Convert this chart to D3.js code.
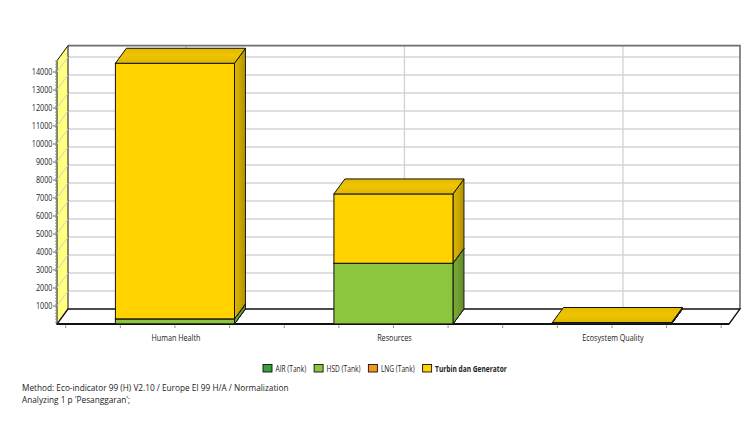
<!DOCTYPE html>
<html>
<head>
<meta charset="utf-8">
<script src="https://cdn.jsdelivr.net/npm/d3@7"></script>
<style>
  body { margin: 0; background: #fff; }
  text { font-family: "Open Sans", "Noto Sans", sans-serif; fill: #222; }
</style>
</head>
<body>
<svg id="chart" width="755" height="424"></svg>
<script>
// Normalized impact per damage category (Eco-indicator 99 H/A)
const categories = ["Human Health", "Resources", "Ecosystem Quality"];
const seriesNames = ["AIR (Tank)", "HSD (Tank)", "LNG (Tank)", "Turbin dan Generator"];
const seriesColors = ["#35a33a", "#8cc63e", "#f7941d", "#ffd200"];
const airValues = [8, 4, 0.5];
const hsdValues = [275, 3370, 20];
const lngValues = [2, 1, 0.5];
const turbinValues = [14200, 3850, 62];
const yTicks = [1000, 2000, 3000, 4000, 5000, 6000, 7000, 8000, 9000, 10000, 11000, 12000, 13000, 14000];
const yMax = 14630;
const footnotes = [
  "Method: Eco-indicator 99 (H) V2.10 / Europe EI 99 H/A / Normalization",
  "Analyzing 1 p 'Pesanggaran';"
];

const series = [airValues, hsdValues, lngValues, turbinValues];

const svg = d3.select("#chart");
const DX = 11, DY = 15;              // depth offset of the 3D box
const floorLeft = 57, floorRight = 729, floorY = 324;

const y = d3.scaleLinear().domain([0, yMax]).range([floorY, floorY - yMax * 0.018]);
const x = d3.scaleBand().domain(categories).range([65.7, 721.2]).padding(0);
const barW = x.bandwidth() * 0.545;

function condense(sel, k) {
  sel.each(function () {
    const w = this.getComputedTextLength();
    d3.select(this).attr("textLength", w * k).attr("lengthAdjust", "spacingAndGlyphs");
  });
}

const defs = svg.append("defs");

// ---- back wall ----
const wallTop = y(yMax) - DY;
svg.append("rect")
  .attr("x", floorLeft + DX).attr("y", wallTop)
  .attr("width", floorRight - floorLeft).attr("height", floorY - DY - wallTop)
  .attr("fill", "#fff");

const grid = svg.append("g");
grid.selectAll("line.h").data(yTicks).join("line")
  .attr("x1", floorLeft + DX).attr("x2", floorRight + DX)
  .attr("y1", d => y(d) - DY).attr("y2", d => y(d) - DY)
  .attr("stroke", "#d4d4d4").attr("stroke-width", 1.4);
grid.selectAll("line.v").data(categories).join("line")
  .attr("x1", d => x(d) + x.bandwidth() / 2 + DX).attr("x2", d => x(d) + x.bandwidth() / 2 + DX)
  .attr("y1", wallTop).attr("y2", floorY - DY)
  .attr("stroke", "#d4d4d4").attr("stroke-width", 1.4);

// top and right border of back wall
svg.append("path")
  .attr("d", `M${floorLeft + DX},${wallTop} H${floorRight + DX} V${floorY - DY}`)
  .attr("fill", "none").attr("stroke", "#6e6e6e").attr("stroke-width", 1.6);

// ---- left wall ----
svg.append("path")
  .attr("d", `M${floorLeft},${floorY} L${floorLeft},${y(yMax)} L${floorLeft + DX},${wallTop} L${floorLeft + DX},${floorY - DY} Z`)
  .attr("fill", "#ffff80").attr("stroke", "#111").attr("stroke-width", 1);
svg.append("g").selectAll("line").data(yTicks).join("line")
  .attr("x1", floorLeft).attr("x2", floorLeft + DX)
  .attr("y1", d => y(d)).attr("y2", d => y(d) - DY)
  .attr("stroke", "#cfcfcf").attr("stroke-width", 1);

// ---- floor ----
svg.append("path")
  .attr("d", `M${floorLeft},${floorY} L${floorRight},${floorY} L${floorRight + DX},${floorY - DY} L${floorLeft + DX},${floorY - DY} Z`)
  .attr("fill", "#fff").attr("stroke", "#111").attr("stroke-width", 1.3);
svg.append("line")
  .attr("x1", floorLeft).attr("x2", floorRight).attr("y1", floorY).attr("y2", floorY)
  .attr("stroke", "#111").attr("stroke-width", 1.8);

// ---- gradients for bar faces ----
seriesColors.forEach((c, i) => {
  const base = d3.rgb(c);
  const side = defs.append("linearGradient").attr("id", "side" + i)
    .attr("x1", 0).attr("x2", 1).attr("y1", 0).attr("y2", 0);
  side.append("stop").attr("offset", 0).attr("stop-color", base.darker(0.4));
  side.append("stop").attr("offset", 0.5).attr("stop-color", base.darker(0.65));
  side.append("stop").attr("offset", 1).attr("stop-color", base.darker(1.05));
  const top = defs.append("linearGradient").attr("id", "top" + i)
    .attr("x1", 0).attr("x2", 0).attr("y1", 0).attr("y2", 1);
  top.append("stop").attr("offset", 0).attr("stop-color", base.darker(0.35));
  top.append("stop").attr("offset", 0.45).attr("stop-color", base.darker(0.18));
  top.append("stop").attr("offset", 1).attr("stop-color", base.darker(0.38));
});

// ---- stacked 3D bars ----
const bars = svg.append("g");
categories.forEach((cat, ci) => {
  const x0 = x(cat) + (x.bandwidth() - barW) / 2, x1 = x0 + barW;
  let cum = 0;
  const segs = [];
  series.forEach((vals, si) => {
    const v = vals[ci];
    if (v > 0) { segs.push({ si, v0: cum, v1: cum + v }); cum += v; }
  });
  const g = bars.append("g");
  // right faces
  g.selectAll("path.side").data(segs).join("path")
    .attr("d", d => {
      const ya = y(d.v0), yb = y(d.v1);
      return `M${x1},${ya} L${x1 + DX},${ya - DY} L${x1 + DX},${yb - DY} L${x1},${yb} Z`;
    })
    .attr("fill", d => `url(#side${d.si})`).attr("stroke", "#111").attr("stroke-width", 0.9);
  // front faces
  g.selectAll("rect.front").data(segs).join("rect")
    .attr("x", x0).attr("width", barW)
    .attr("y", d => y(d.v1)).attr("height", d => y(d.v0) - y(d.v1))
    .attr("fill", d => seriesColors[d.si]).attr("stroke", "#111").attr("stroke-width", 1);
  // top face of the stack
  const last = segs[segs.length - 1];
  const yt = y(last.v1);
  g.append("path")
    .attr("d", `M${x0},${yt} L${x0 + DX},${yt - DY} L${x1 + DX},${yt - DY} L${x1},${yt} Z`)
    .attr("fill", `url(#top${last.si})`).attr("stroke", "#111").attr("stroke-width", 1);
});

// ---- y axis ----
const yAxis = svg.append("g");
yAxis.append("line")
  .attr("x1", floorLeft - 1.5).attr("x2", floorLeft - 1.5)
  .attr("y1", y(yMax)).attr("y2", floorY)
  .attr("stroke", "#888").attr("stroke-width", 1).attr("stroke-dasharray", "1,2");
yAxis.selectAll("line.tk").data(yTicks).join("line")
  .attr("x1", floorLeft - 4).attr("x2", floorLeft)
  .attr("y1", d => y(d)).attr("y2", d => y(d))
  .attr("stroke", "#666").attr("stroke-width", 1);
yAxis.selectAll("text").data(yTicks).join("text")
  .attr("x", floorLeft - 4.5).attr("y", d => y(d) + 3)
  .attr("text-anchor", "end").attr("font-size", 8.6).attr("fill", "#333")
  .text(d => d)
  .call(condense, 0.84);

// ---- x axis ----
const xTickPos = [];
categories.forEach(c => { for (let k = 0; k < 4; k++) xTickPos.push(x(c) + k * x.bandwidth() / 4); });
xTickPos.push(x.range()[1]);
svg.append("g").selectAll("line").data(xTickPos).join("line")
  .attr("x1", d => d).attr("x2", d => d).attr("y1", floorY + 1.5).attr("y2", floorY + 4)
  .attr("stroke", "#888").attr("stroke-width", 1);
svg.append("g").selectAll("text").data(categories).join("text")
  .attr("x", d => x(d) + x.bandwidth() / 2 + 1).attr("y", 341)
  .attr("text-anchor", "middle").attr("font-size", 8.6).attr("fill", "#333")
  .text(d => d)
  .call(condense, 0.84);

// ---- legend ----
const legend = svg.append("g");
let lx = 263;
seriesNames.forEach((name, i) => {
  legend.append("rect")
    .attr("x", lx).attr("y", 364.5).attr("width", 9).attr("height", 7.5)
    .attr("fill", seriesColors[i]).attr("stroke", "#111").attr("stroke-width", 0.9);
  const t = legend.append("text")
    .attr("x", lx + 12.5).attr("y", 371.5)
    .attr("font-size", 8.4).attr("fill", "#222")
    .attr("font-weight", i === seriesNames.length - 1 ? "bold" : "normal")
    .text(name)
    .call(condense, 0.79);
  lx += 12.5 + (+t.attr("textLength")) + 8;
});

// ---- footnotes ----
svg.append("g").selectAll("text").data(footnotes).join("text")
  .attr("x", 22).attr("y", (d, i) => 391 + i * 12.2)
  .attr("font-size", 8.6).attr("fill", "#222")
  .text(d => d)
  .call(condense, 0.96);
</script>
</body>
</html>
